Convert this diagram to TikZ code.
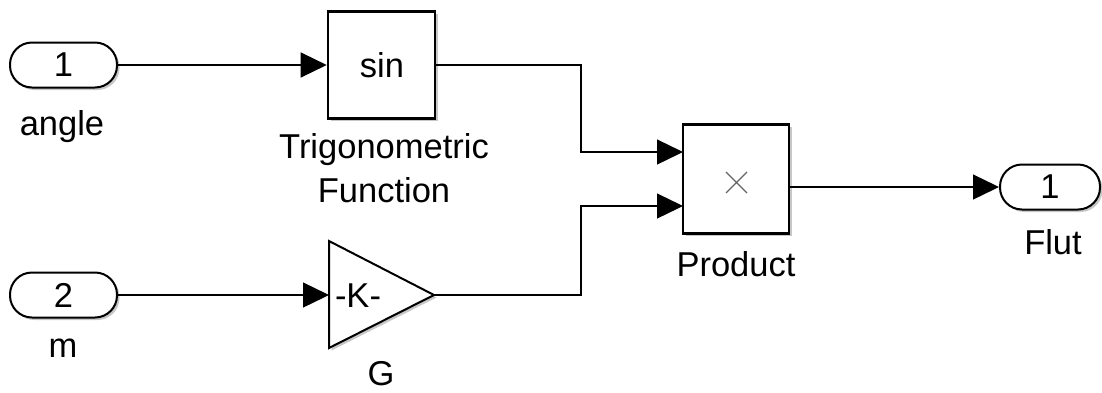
\documentclass[tikz,border=0pt]{standalone}
\usepackage{fontspec}
\setmainfont{Liberation Sans}
\usetikzlibrary{arrows.meta,shadows}
\begin{document}
\begin{tikzpicture}[x=1pt,y=-1pt,
  font=\fontsize{34.5}{40}\selectfont,
  shade/.style={drop shadow={shadow xshift=2.5pt,shadow yshift=-2.5pt,fill=black!40,opacity=0.55}},
  port/.style={draw,line width=2pt,rounded corners=22pt,minimum width=107pt,
    minimum height=45pt,fill=white,inner sep=0pt,shade},
  block/.style={draw,line width=2.6pt,fill=white,inner sep=0pt,shade},
  wire/.style={line width=1.3pt,-{Triangle[length=26pt,width=25pt]}},
  caption/.style={inner sep=0pt,anchor=base,align=center}]
  \useasboundingbox (0,0) rectangle (1102,392);

  % inports
  \node[port] (in1) at (63.5,65) {1};
  \node[port] (in2) at (63.5,295) {2};
  \node[caption] (angleL) at (62,135) {angle};
  \node[caption] (mL) at (63,357) {m};

  % trigonometric function block
  \node[block,minimum width=107pt,minimum height=107pt] (trig) at (381.5,65) {};
  \node[inner sep=0pt] (sinT) at (382,65) {sin};
  \node[caption] (trigL1) at (384,158) {Trigonometric};
  \node[caption] (trigL2) at (384,202) {Function};

  % gain block
  \coordinate (gin) at (329,295);
  \coordinate (gout) at (434,295);
  \draw[line width=2pt,fill=white,shade] (329,241) -- (gout) -- (329,348) -- cycle;
  \node[inner sep=0pt] (gk) at (358,296) {-K-};
  \node[caption] (gL) at (381,385) {G};

  % product block
  \node[block,minimum width=106pt,minimum height=109pt] (prod) at (736,179) {};
  \draw[line width=1.2pt,black!60] (726,172) -- (747,193) (726,193) -- (747,172);
  \node[caption] (prodL) at (736,276) {Product};
  \coordinate (p1) at (683,152);
  \coordinate (p2) at (683,206);
  \coordinate (pout) at (789,187);

  % outport
  \node[port,minimum width=100pt] (out1) at (1050,187) {1};
  \node[caption] (flutL) at (1053,254) {Flut};

  % signal lines
  \coordinate (b1) at (581,152);
  \coordinate (b2) at (581,206);
  \draw[wire] (in1.east) -- (trig.west);
  \draw[wire] (in2.east) -- (gin);
  \draw[wire] (trig.east) -| (b1) -- (p1);
  \draw[wire] (gout) -| (b2) -- (p2);
  \draw[wire] (pout) -- (out1.west);
\end{tikzpicture}
\end{document}
